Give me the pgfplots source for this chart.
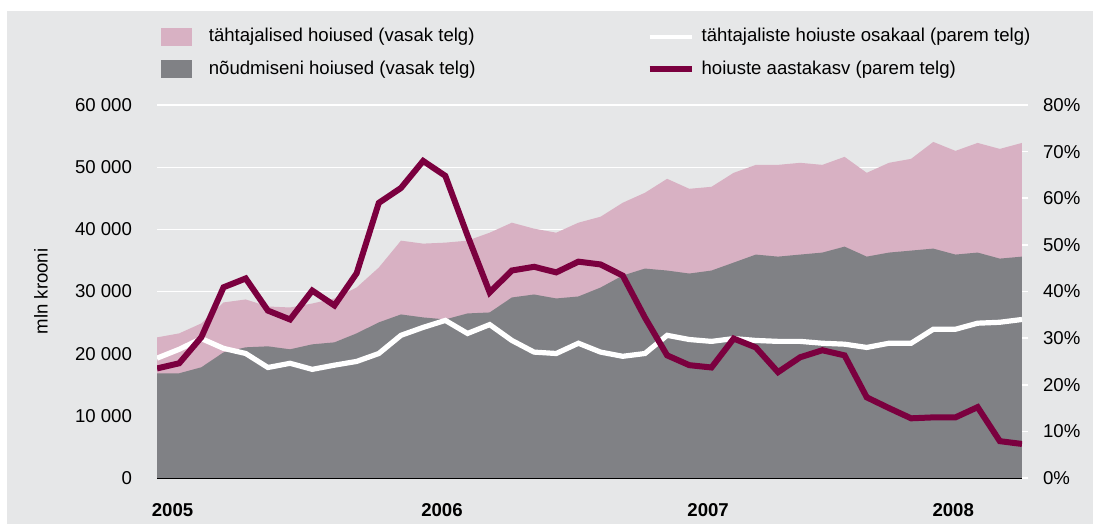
\documentclass[border=0pt]{standalone}
\usepackage{fontspec}
\setmainfont{Liberation Sans}
\usepackage{pgfplots}
\usepackage{pgfplotstable}
\pgfplotsset{compat=1.18}
\definecolor{bgc}{RGB}{230,231,232}
\definecolor{pinkc}{RGB}{216,177,195}
\definecolor{greyc}{RGB}{128,129,133}
\definecolor{maroon}{RGB}{123,0,63}

% month index, total deposits, demand deposits (mln EEK)
\pgfplotstableread{
i total demand
0 22620 16845
1 23260 16845
2 24870 17810
3 28240 20210
4 28720 21020
5 27590 21180
6 27430 20700
7 28070 21500
8 28880 21820
9 30640 23260
10 33850 25030
11 38180 26310
12 37700 25830
13 37860 25510
14 38180 26470
15 39460 26630
16 41070 29040
17 40110 29520
18 39460 28880
19 41070 29200
20 42030 30640
21 44280 32570
22 45880 33690
23 48130 33370
24 46520 32890
25 46840 33370
26 49090 34650
27 50370 35940
28 50370 35610
29 50700 35940
30 50370 36260
31 51660 37220
32 49090 35610
33 50700 36260
34 51340 36580
35 54060 36900
36 52620 35940
37 53900 36260
38 52940 35290
39 53900 35610
}\deposits

% share of time deposits, annual growth (%)
\pgfplotstableread{
i share growth
0 25.7 23.5
1 27.6 24.6
2 29.9 30.2
3 27.8 40.9
4 26.7 42.8
5 23.7 35.9
6 24.6 34.0
7 23.3 40.2
8 24.2 37.0
9 25.0 43.9
10 26.7 59.0
11 30.6 62.2
12 32.3 68.0
13 33.8 64.8
14 31.0 52.0
15 32.9 39.8
16 29.5 44.5
17 27.0 45.3
18 26.7 44.1
19 28.9 46.4
20 27.0 45.8
21 26.1 43.4
22 26.7 34.4
23 30.6 26.3
24 29.7 24.2
25 29.3 23.7
26 29.9 29.9
27 29.5 28.0
28 29.3 22.7
29 29.3 25.9
30 28.9 27.4
31 28.7 26.3
32 28.0 17.3
33 28.9 15.0
34 28.9 12.8
35 31.9 13.0
36 31.9 13.0
37 33.2 15.2
38 33.4 7.9
39 34.0 7.3
}\rates

\begin{document}
\begin{tikzpicture}[x=0.5pt,y=0.5pt]
\fill[white] (0,0) rectangle (1093,524);
\fill[bgc] (7,0) rectangle (1093,513);

\pgfplotsset{
  base/.style={
    at={(78.5pt,23pt)}, anchor=south west,
    scale only axis, width=432.5pt, height=186.5pt,
    xmin=0, xmax=39,
    clip=true,
    tick label style={font=\fontsize{9.3}{11}\selectfont},
    /pgf/number format/assume math mode=true,
  }
}

\begin{axis}[base,
  ymin=0, ymax=60000,
  ytick={0,10000,...,60000},
  scaled y ticks=false,
  yticklabel style={/pgf/number format/1000 sep={\ }, xshift=-9pt},
  axis x line*=bottom,
  axis y line*=left,
  x axis line style={black, line width=1pt, -},
  y axis line style={draw=none},
  ytick style={draw=none},
  xtick={0.7,12.85,24.85,35.9},
  xticklabels={2005,2006,2007,\raisebox{-3pt}{2008}},
  xticklabel style={font=\fontsize{9.3}{11}\selectfont\bfseries, yshift=-9pt},
  xtick style={draw=none},
  ymajorgrids,
  grid style={white, line width=0.6pt},
  ylabel={mln krooni},
  ylabel style={at={(axis description cs:-0.134,0.5)}, anchor=center,
    font=\fontsize{9.3}{11}\selectfont},
  legend columns=2,
  legend cell align=left,
  legend style={at={(axis description cs:0.004,1.217)}, anchor=north west,
    draw=none, fill=none, inner sep=0pt, row sep=4pt,
    font=\fontsize{9.3}{11}\selectfont,
    /tikz/column 1/.style={column sep=6.5pt},
    /tikz/column 2/.style={column sep=83.5pt},
    /tikz/column 3/.style={column sep=1.5pt}},
]
\addplot[fill=pinkc, draw=none,
  legend image code/.code={\fill[pinkc] (0pt,-4.5pt) rectangle (15.5pt,4.5pt);}]
  table[x=i, y=total] {\deposits} \closedcycle;
\addlegendentry{tähtajalised hoiused (vasak telg)}
\addlegendimage{legend image code/.code={\draw[white, line width=2pt] (0pt,0pt) -- (21pt,0pt);}}
\addlegendentry{tähtajaliste hoiuste osakaal (parem telg)}
\addplot[fill=greyc, draw=none,
  legend image code/.code={\fill[greyc] (0pt,-4.5pt) rectangle (15.5pt,4.5pt);}]
  table[x=i, y=demand] {\deposits} \closedcycle;
\addlegendentry{nõudmiseni hoiused (vasak telg)}
\addlegendimage{legend image code/.code={\draw[maroon, line width=3pt] (0pt,0pt) -- (21pt,0pt);}}
\addlegendentry{hoiuste aastakasv (parem telg)}
\end{axis}

\begin{axis}[base,
  ymin=0, ymax=80,
  ytick={0,10,...,80},
  yticklabel={\pgfmathprintnumber{\tick}\%},
  yticklabel style={xshift=4pt},
  axis x line=none,
  axis y line*=right,
  y axis line style={draw=none},
  tick align=outside,
  major tick length=3pt,
  ytick style={white, line width=0.8pt},
]
\addplot[white, line width=2.6pt, line join=miter] table[x=i, y=share] {\rates};
\addplot[maroon, line width=3pt, line join=miter] table[x=i, y=growth] {\rates};
\end{axis}
\end{tikzpicture}
\end{document}
